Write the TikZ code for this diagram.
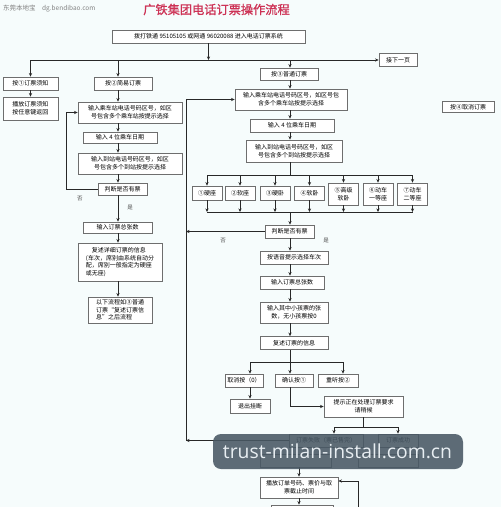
\documentclass[tikz,border=0pt]{standalone}
\usepackage{fontspec}
\usepackage{graphicx}
\setmainfont{Noto Sans CJK SC}
\newfontfamily\titlefont[FakeBold=1.2]{Noto Sans CJK SC}
\newfontfamily\wmfont{Open Sans}
\usetikzlibrary{arrows.meta}
\definecolor{bgc}{RGB}{246,252,252}
\definecolor{boxc}{RGB}{110,110,110}
\definecolor{linec}{RGB}{40,40,40}
\definecolor{titlec}{RGB}{205,50,85}
\definecolor{wmbg}{RGB}{72,88,100}
\definecolor{wmtx}{RGB}{232,238,242}
\tikzset{
  bx/.style={draw=boxc, line width=0.7pt, fill=white, font=\fontsize{6}{7.6}\selectfont, align=center, inner sep=0.5pt},
  seat/.style={bx, minimum width=30pt},
  arr/.style={-{Stealth[length=3.6pt,width=3.2pt]}, line width=0.8pt, draw=linec},
  ln/.style={line width=0.8pt, draw=linec},
  lbl/.style={font=\fontsize{5.5}{6}\selectfont, text=black!70, inner sep=0pt}
}
\begin{document}
\begin{tikzpicture}[x=1pt,y=-1pt]
\useasboundingbox (0,0) rectangle (501,507);
\clip (0,0) rectangle (501,507);
\fill[bgc] (0,0) rectangle (501,507);

% header
\node[font=\fontsize{6.5}{7}\selectfont, text=black!50, anchor=west, inner sep=0pt] (src) at (3,9) {东莞本地宝\quad dg.bendibao.com};
\node[font=\titlefont\fontsize{12.2}{14}\selectfont, text=titlec, inner sep=0pt] (title) at (216.5,9.5) {广铁集团电话订票操作流程};

% top row
\node[bx, minimum width=193pt, minimum height=13pt] (top) at (208.5,36.5) {拨打铁通 95105105 或网通 96020088 进入电话订票系统};
\node[bx, minimum width=38pt, minimum height=13pt] (nxt) at (398,60) {接下一页};
\node[bx, minimum width=52pt, minimum height=11pt] (b4) at (468,107) {按④取消订票};

% column 1
\node[bx, minimum width=55pt, minimum height=13pt] (b1) at (30.5,83.5) {按①订票须知};
\node[bx, minimum width=55pt, minimum height=23pt] (b1a) at (30.5,108.5) {播放订票须知\\按任意键返回};

% column 2
\coordinate (cB) at (118,0);
\coordinate (lB) at (66,0);
\node[bx, minimum width=58pt, minimum height=13pt] (b2) at (123,83.5) {按②简易订票};
\node[bx, minimum width=104pt, minimum height=21pt] (b2a) at (130,112.5) {输入乘车站电话号码区号，如区\\号包含多个乘车站按提示选择};
\node[bx, minimum width=74pt, minimum height=11pt] (b2b) at (120,137.5) {输入 4 位乘车日期};
\node[bx, minimum width=104pt, minimum height=21pt] (b2c) at (130,163.5) {输入到站电话号码区号，如区\\号包含多个到站按提示选择};
\node[bx, minimum width=49pt, minimum height=12pt] (b2d) at (122.5,189) {判断是否有票};
\node[bx, minimum width=69pt, minimum height=11pt] (b2e) at (117.5,227.5) {输入订票总张数};
\node[bx, minimum width=84pt, minimum height=38pt, align=left] (b2f) at (120,262) {\quad 复述详细订票的信息\\(车次，席别由系统自动分\\配，席别一般指定为硬座\\或无座)};
\node[bx, minimum width=64pt, minimum height=26pt, align=left] (b2g) at (120,310) {以下流程如③普通\\订票“复述订票信\\息”之后流程};
\node[lbl] (noB) at (80,199) {否};
\node[lbl] (yesB) at (130,208) {是};

% column 3
\coordinate (cC) at (290,0);
\coordinate (lC) at (186,0);
\coordinate (sT) at (0,175);
\coordinate (sB) at (0,212);
\node[bx, minimum width=58pt, minimum height=12pt] (b3) at (289,74) {按③普通订票};
\node[bx, minimum width=112pt, minimum height=21pt] (b3a) at (291,99.5) {输入乘车站电话号码区号，如区号包\\含多个乘车站按提示选择};
\node[bx, minimum width=84pt, minimum height=13pt] (b3b) at (292,125.5) {输入 4 位乘车日期};
\node[bx, minimum width=96pt, minimum height=22pt] (b3c) at (294,151) {输入到站电话号码区号，如区\\号包含多个到站按提示选择};
\node[seat, minimum height=14pt] (s1) at (207,193) {①硬座};
\node[seat, minimum height=14pt] (s2) at (240,193) {②软座};
\node[seat, minimum height=14pt] (s3) at (275,193) {③硬卧};
\node[seat, minimum height=14pt] (s4) at (309.5,193) {④软卧};
\node[seat, minimum height=22pt] (s5) at (343.5,194) {⑤高级\\软卧};
\node[seat, minimum height=22pt] (s6) at (378,194) {⑥动车\\一等座};
\node[seat, minimum height=22pt] (s7) at (412.5,194) {⑦动车\\二等座};
\node[bx, minimum width=49pt, minimum height=13pt] (b3d) at (289.5,231.5) {判断是否有票};
\node[bx, minimum width=68pt, minimum height=13pt] (b3e) at (294,257.5) {按语音提示选择车次};
\node[bx, minimum width=64pt, minimum height=13pt] (b3f) at (292,282.5) {输入订票总张数};
\node[bx, minimum width=68pt, minimum height=21pt] (b3g) at (294,312.5) {输入其中小孩票的张\\数，无小孩票按0};
\node[bx, minimum width=68pt, minimum height=13pt] (b3h) at (294,343) {复述订票的信息};
\node[lbl] (noC) at (223,241) {否};
\node[lbl] (yesC) at (326,241) {是};

% lower part
\coordinate (bh) at (0,362);
\coordinate (x0) at (250,0);
\coordinate (x2) at (343,0);
\node[bx, minimum width=38pt, minimum height=13pt] (c0) at (244,380.5) {取消按（0）};
\node[bx, minimum width=38pt, minimum height=13pt] (c1) at (294,380.5) {确认按①};
\node[bx, minimum width=40pt, minimum height=13pt] (c2) at (338,380.5) {重听按②};
\node[bx, minimum width=40pt, minimum height=14pt] (d0) at (250,406) {退出挂断};
\node[bx, minimum width=79pt, minimum height=21pt] (d1) at (363.5,406.5) {提示正在处理订票要求\\请稍候};
\coordinate (bh2) at (0,427);
\coordinate (xd) at (363,0);
\coordinate (xf0) at (334,0);
\coordinate (xf1) at (398,0);
\node[bx, minimum width=74pt, minimum height=13pt] (e0) at (326,440.5) {订票失败（票已售完）};
\node[bx, minimum width=40pt, minimum height=13pt] (e1) at (398,440.5) {订票成功};
\node[bx, minimum width=71pt, minimum height=13pt] (f0) at (295.5,460.5) {};
\node[bx, minimum width=60pt, minimum height=13pt] (f1) at (388,460.5) {};
\coordinate (xg) at (299,0);
\node[bx, minimum width=78pt, minimum height=21pt] (g) at (299,487.5) {播放订单号码、票价与取\\票截止时间};
\node[bx, minimum width=62pt, minimum height=20pt] (hh) at (302,515) {};
\coordinate (lp) at (358,512);
\coordinate (lp2) at (358,481);

% connectors top
\draw[arr] (top.south) -- (top.south |- nxt.west);
\draw[arr] (b1.north |- nxt.west) -- (nxt.west);
\draw[arr] (b1.north |- nxt.west) -- (b1.north);
\draw[arr] (cB |- nxt.west) -- (cB |- b2.north);
\draw[arr] (cC |- nxt.west) -- (cC |- b3.north);
\draw[arr] (b1) -- (b1a);

% column 2 connectors
\draw[arr] (cB |- b2.south) -- (cB |- b2a.north);
\draw[arr] (cB |- b2a.south) -- (cB |- b2b.north);
\draw[arr] (cB |- b2b.south) -- (cB |- b2c.north);
\draw[arr] (cB |- b2c.south) -- (cB |- b2d.north);
\draw[arr] (cB |- b2d.south) -- (cB |- b2e.north);
\draw[arr] (cB |- b2e.south) -- (cB |- b2f.north);
\draw[arr] (cB |- b2f.south) -- (cB |- b2g.north);
\draw[arr] (b2d.west) -- (lB |- b2d.west) -- (lB |- b2a.west) -- (b2a.west);

% column 3 connectors
\draw[arr] (cC |- b3.south) -- (cC |- b3a.north);
\draw[arr] (cC |- b3a.south) -- (cC |- b3b.north);
\draw[arr] (cC |- b3b.south) -- (cC |- b3c.north);
\draw[ln] (cC |- b3c.south) -- (cC |- sT);
\draw[ln] (s1.north |- sT) -- (s7.north |- sT);
\draw[ln] (s1.south |- sB) -- (s7.south |- sB);
\foreach \s in {s1,s2,s3,s4,s5,s6,s7}{
  \draw[arr] (\s.north |- sT) -- (\s.north);
  \draw[arr] (\s.south) -- (\s.south |- sB);
}
\draw[arr] (cC |- sB) -- (cC |- b3d.north);
\draw[arr] (cC |- b3d.south) -- (cC |- b3e.north);
\draw[arr] (cC |- b3e.south) -- (cC |- b3f.north);
\draw[arr] (cC |- b3f.south) -- (cC |- b3g.north);
\draw[arr] (cC |- b3g.south) -- (cC |- b3h.north);
\draw[arr] (b3d.west) -- (lC |- b3d.west);
\draw[arr] (e0.west) -- (lC |- e0.west);
\draw[arr] (lC |- e0.west) -- (lC |- b3a.west) -- (b3a.west);

% lower connectors
\draw[ln] (cC |- b3h.south) -- (cC |- bh);
\draw[ln] (x0 |- bh) -- (x2 |- bh);
\draw[arr] (x0 |- bh) -- (x0 |- c0.north);
\draw[arr] (cC |- bh) -- (cC |- c1.north);
\draw[arr] (x2 |- bh) -- (x2 |- c2.north);
\draw[arr] (x0 |- c0.south) -- (x0 |- d0.north);
\draw[arr] (cC |- c1.south) -- (cC |- d1.west) -- (d1.west);
\draw[ln] (xd |- d1.south) -- (xd |- bh2);
\draw[ln] (xf0 |- bh2) -- (xf1 |- bh2);
\draw[arr] (xf0 |- bh2) -- (xf0 |- e0.north);
\draw[arr] (xf1 |- bh2) -- (xf1 |- e1.north);
\draw[arr] (xf1 |- e1.south) -- (xf1 |- f1.north);
\draw[arr] (xg |- f0.south) -- (xg |- g.north);
\draw[arr] (xg |- g.south) -- (xg |- hh.north);
\draw[arr] (lp) -- (lp2) -- (g.east |- lp2);

% watermark
\fill[wmbg, fill opacity=0.88, rounded corners=8pt] (213,434) rectangle (463,469);
\node[text=wmtx, inner sep=0pt] (wm) at (337.5,451.5) {\resizebox{229pt}{!}{\wmfont trust-milan-install.com.cn}};
\end{tikzpicture}
\end{document}
